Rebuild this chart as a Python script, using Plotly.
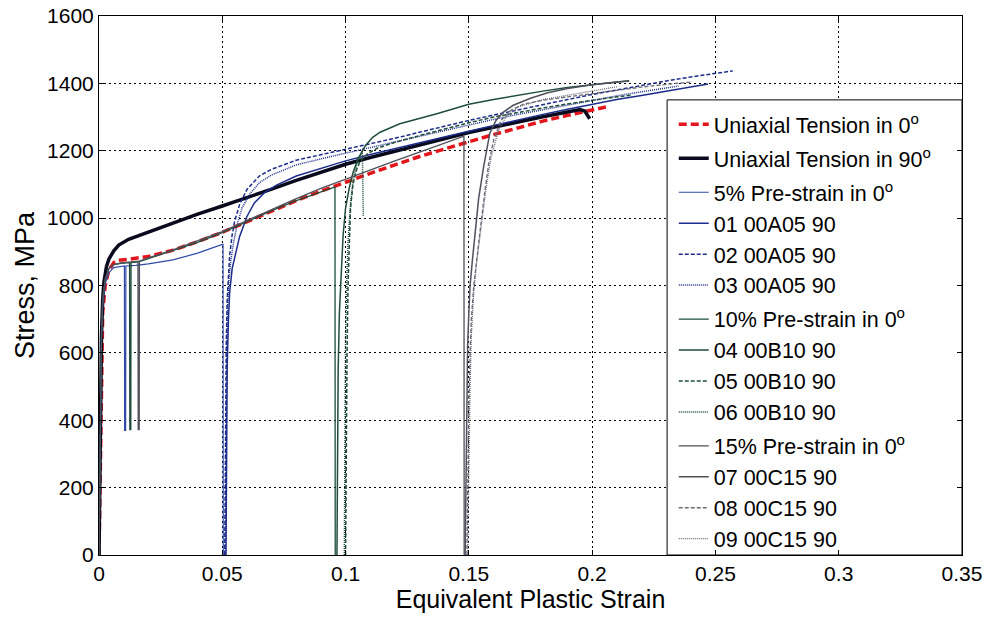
import plotly.graph_objects as go

# ---------------- data ----------------
ut0_x = [0, 0.0003, 0.0006, 0.001, 0.0015, 0.0025, 0.004, 0.006, 0.008, 0.012, 0.02, 0.03, 0.04, 0.05,
         0.06, 0.07, 0.08, 0.09, 0.1, 0.11, 0.12, 0.13, 0.14, 0.15, 0.16, 0.17, 0.18, 0.19, 0.2, 0.207]
ut0_y = [0, 150, 400, 620, 720, 800, 845, 868, 875, 878, 886, 905, 930, 958,
         990, 1022, 1052, 1080, 1107, 1133, 1158, 1183, 1205, 1227, 1248, 1268, 1288, 1305, 1320, 1332]

ut90_x = [0, 0.0003, 0.0006, 0.001, 0.0015, 0.002, 0.003, 0.004, 0.006, 0.008, 0.012, 0.02, 0.03, 0.04,
          0.05, 0.06, 0.07, 0.08, 0.09, 0.1, 0.11, 0.12, 0.13, 0.14, 0.15, 0.16, 0.17, 0.18, 0.19,
          0.195, 0.197, 0.199]
ut90_y = [0, 200, 450, 650, 760, 810, 855, 878, 903, 920, 937, 958, 987, 1012,
          1036, 1060, 1086, 1112, 1137, 1160, 1180, 1199, 1218, 1236, 1254, 1270, 1286, 1301, 1315,
          1322, 1318, 1295]

pre5_x = [0, 0.0003, 0.0007, 0.001, 0.0015, 0.0025, 0.004, 0.006, 0.0103, 0.0104, 0.0108, 0.0109,
          0.015, 0.02, 0.03, 0.04, 0.05, 0.0503, 0.0504]
pre5_y = [0, 250, 500, 640, 740, 805, 838, 853, 858, 370, 370, 858,
          860, 864, 876, 896, 922, 922, 0]

r01_x = [0.0515, 0.0518, 0.052, 0.0525, 0.053, 0.054, 0.0555, 0.057, 0.06, 0.063, 0.067, 0.072, 0.08,
         0.09, 0.1, 0.11, 0.12, 0.13, 0.14, 0.15, 0.16, 0.17, 0.18, 0.19, 0.2, 0.21, 0.22, 0.23, 0.24, 0.247]
r01_y = [0, 350, 560, 700, 780, 850, 900, 945, 1005, 1045, 1075, 1098, 1125,
         1148, 1170, 1189, 1207, 1224, 1241, 1258, 1275, 1292, 1308, 1323, 1338, 1352, 1364, 1376, 1388, 1398]

r02_x = [0.051, 0.0513, 0.0516, 0.052, 0.0525, 0.053, 0.054, 0.055, 0.057, 0.06, 0.065, 0.07, 0.08,
         0.09, 0.1, 0.11, 0.12, 0.13, 0.14, 0.15, 0.16, 0.17, 0.18, 0.19, 0.2, 0.21, 0.22, 0.23, 0.24,
         0.25, 0.257]
r02_y = [0, 400, 620, 760, 840, 890, 950, 990, 1040, 1085, 1125, 1145, 1172,
         1188, 1203, 1220, 1237, 1255, 1273, 1290, 1306, 1322, 1337, 1352, 1367, 1381, 1394, 1407, 1419,
         1430, 1437]

r03_x = [0.0512, 0.0515, 0.0518, 0.0522, 0.0527, 0.0535, 0.0545, 0.056, 0.058, 0.061, 0.065, 0.07,
         0.08, 0.09, 0.1, 0.11, 0.12, 0.13, 0.14, 0.15, 0.16, 0.17, 0.18, 0.19, 0.2, 0.21, 0.22, 0.235]
r03_y = [0, 380, 600, 740, 820, 875, 925, 980, 1030, 1070, 1105, 1128,
         1158, 1176, 1193, 1210, 1227, 1244, 1261, 1278, 1293, 1308, 1322, 1336, 1350, 1363, 1375, 1392]

pre10_x = [0, 0.0003, 0.0007, 0.001, 0.0015, 0.0025, 0.004, 0.006, 0.009, 0.0124, 0.0125, 0.0129, 0.013,
           0.016, 0.02, 0.03, 0.04, 0.05, 0.06, 0.07, 0.08, 0.09, 0.0955, 0.0957, 0.0958]
pre10_y = [0, 260, 520, 660, 760, 820, 850, 862, 866, 868, 372, 372, 868,
           870, 880, 903, 928, 957, 990, 1022, 1052, 1079, 1092, 1092, 0]

r04_x = [0.0965, 0.0968, 0.097, 0.0975, 0.098, 0.099, 0.1, 0.1015, 0.103, 0.105, 0.108, 0.111, 0.114,
         0.122, 0.137, 0.15, 0.16, 0.17, 0.18, 0.19, 0.2, 0.21, 0.215]
r04_y = [0, 300, 550, 720, 800, 950, 1030, 1090, 1135, 1175, 1215, 1240, 1255,
         1280, 1310, 1338, 1352, 1365, 1377, 1388, 1397, 1404, 1407]

r05_x = [0.1, 0.1003, 0.1006, 0.101, 0.1015, 0.102, 0.103, 0.1045, 0.106, 0.109, 0.113, 0.12, 0.13,
         0.14, 0.15, 0.16, 0.17, 0.18, 0.19, 0.2, 0.21, 0.216]
r05_y = [0, 350, 600, 800, 940, 1030, 1100, 1145, 1170, 1192, 1208, 1225, 1245,
         1265, 1283, 1300, 1314, 1327, 1339, 1350, 1360, 1365]

r06_x = [0.0995, 0.0998, 0.1, 0.1005, 0.101, 0.102, 0.103, 0.1045, 0.106, 0.1068, 0.107, 0.1072]
r06_y = [0, 400, 650, 820, 930, 1040, 1110, 1160, 1190, 1200, 1100, 1005]

pre15_x = [0, 0.0003, 0.0007, 0.001, 0.0015, 0.0025, 0.004, 0.006, 0.009, 0.012, 0.0158, 0.0159, 0.0163,
           0.0164, 0.02, 0.03, 0.04, 0.05, 0.06, 0.07, 0.08, 0.09, 0.1, 0.11, 0.12, 0.13, 0.14,
           0.1478, 0.148, 0.1481]
pre15_y = [0, 240, 500, 650, 755, 818, 850, 862, 867, 870, 872, 372, 372,
           872, 882, 906, 932, 960, 993, 1026, 1058, 1088, 1116, 1143, 1170, 1196, 1222,
           1243, 1243, 0]

r07_x = [0.1485, 0.1488, 0.149, 0.1495, 0.15, 0.1505, 0.1515, 0.1525, 0.154, 0.156, 0.1585, 0.161,
         0.164, 0.168, 0.175, 0.182, 0.19, 0.2, 0.21, 0.215]
r07_y = [0, 250, 450, 620, 720, 800, 880, 955, 1060, 1153, 1252, 1290,
         1315, 1335, 1356, 1372, 1385, 1396, 1404, 1408]

r08_x = [0.1492, 0.1495, 0.15, 0.1505, 0.151, 0.152, 0.153, 0.154, 0.155, 0.1565, 0.158, 0.16, 0.163,
         0.167, 0.172, 0.18, 0.19, 0.2, 0.21, 0.22, 0.23, 0.24]
r08_y = [0, 250, 450, 600, 700, 800, 870, 930, 990, 1080, 1160, 1230, 1290,
         1320, 1338, 1350, 1360, 1370, 1380, 1389, 1397, 1404]

r09_x = [0.1495, 0.15, 0.1505, 0.151, 0.152, 0.153, 0.154, 0.1555, 0.157, 0.159, 0.162, 0.165, 0.17,
         0.18, 0.19, 0.2, 0.21]
r09_y = [0, 300, 500, 650, 780, 860, 920, 1000, 1090, 1180, 1260, 1300, 1330,
         1352, 1365, 1378, 1390]

x_ticks = [0, 0.05, 0.1, 0.15, 0.2, 0.25, 0.3, 0.35]
x_tick_labels = ["0", "0.05", "0.1", "0.15", "0.2", "0.25", "0.3", "0.35"]
y_ticks = [0, 200, 400, 600, 800, 1000, 1200, 1400, 1600]
y_tick_labels = ["0", "200", "400", "600", "800", "1000", "1200", "1400", "1600"]

# ---------------- styling ----------------
RED = "#e4141b"
BLACK = "#0a0a1e"
BLUE = "#1c2c8c"
BLUE_L = "#2f4aa8"
GREEN = "#1e4d3a"
GREY = "#50505c"
GREY_L = "#6a6a78"
FONT = "Liberation Sans, Arial, sans-serif"

series = [
    (ut0_x, ut0_y, "Uniaxial Tension in 0<sup>o</sup>", RED, 3.5, "8px,4px", "g0"),
    (ut90_x, ut90_y, "Uniaxial Tension in 90<sup>o</sup>", BLACK, 3.5, "solid", "g90"),
    (pre5_x, pre5_y, "5% Pre-strain in 0<sup>o</sup>", BLUE_L, 1.2, "solid", "g5"),
    (r01_x, r01_y, "01 00A05 90", BLUE, 1.5, "solid", "g5"),
    (r02_x, r02_y, "02 00A05 90", BLUE, 1.5, "4px,2px", "g5"),
    (r03_x, r03_y, "03 00A05 90", BLUE, 1.5, "1px,1px", "g5"),
    (pre10_x, pre10_y, "10% Pre-strain in 0<sup>o</sup>", GREEN, 1.3, "solid", "g10"),
    (r04_x, r04_y, "04 00B10 90", GREEN, 1.5, "solid", "g10"),
    (r05_x, r05_y, "05 00B10 90", GREEN, 1.5, "4px,2px", "g10"),
    (r06_x, r06_y, "06 00B10 90", GREEN, 1.5, "1px,1px", "g10"),
    (pre15_x, pre15_y, "15% Pre-strain in 0<sup>o</sup>", GREY, 1.3, "solid", "g15"),
    (r07_x, r07_y, "07 00C15 90", GREY, 1.5, "solid", "g15"),
    (r08_x, r08_y, "08 00C15 90", GREY_L, 1.3, "4px,2px", "g15"),
    (r09_x, r09_y, "09 00C15 90", GREY_L, 1.3, "1px,1px", "g15"),
]

fig = go.Figure()
for xs, ys, name, color, width, dash, grp in series:
    fig.add_trace(go.Scatter(
        x=xs, y=ys, mode="lines", name=name, legendgroup=grp,
        line=dict(color=color, width=width, dash=dash),
    ))

axis_common = dict(
    showline=True, linecolor="black", linewidth=1, mirror="ticks",
    ticks="inside", ticklen=5, tickcolor="black",
    showgrid=True, gridcolor="black", gridwidth=1, griddash="2px,3px",
    zeroline=False,
    tickfont=dict(family=FONT, size=21, color="black"),
)

fig.update_xaxes(
    range=[0, 0.35], tickvals=x_ticks, ticktext=x_tick_labels,
    title=dict(text="Equivalent Plastic Strain", font=dict(family=FONT, size=25, color="black"), standoff=2),
    **axis_common,
)
fig.update_yaxes(
    range=[0, 1600], tickvals=y_ticks, ticktext=y_tick_labels,
    title=dict(text="Stress, MPa", font=dict(family=FONT, size=27, color="black"), standoff=4),
    **axis_common,
)

# opaque legend frame (drawn under traces, over the grid)
fig.add_shape(type="rect", xref="x", yref="y", x0=0.2304, x1=0.35, y0=0, y1=1351,
              line=dict(color="black", width=1), fillcolor="white", layer="between")

fig.update_layout(
    width=987, height=618,
    margin=dict(l=99, r=25, t=16, b=63, autoexpand=False),
    paper_bgcolor="white", plot_bgcolor="white",
    font=dict(family=FONT, color="black"),
    showlegend=True,
    legend=dict(
        x=0.666, y=0.837, xanchor="left", yanchor="top",
        bgcolor="rgba(0,0,0,0)", borderwidth=0,
        font=dict(family=FONT, size=21.5, color="black"),
        traceorder="grouped", tracegroupgap=3,
        itemclick=False, itemdoubleclick=False,
    ),
)

fig.write_html("out.html")
